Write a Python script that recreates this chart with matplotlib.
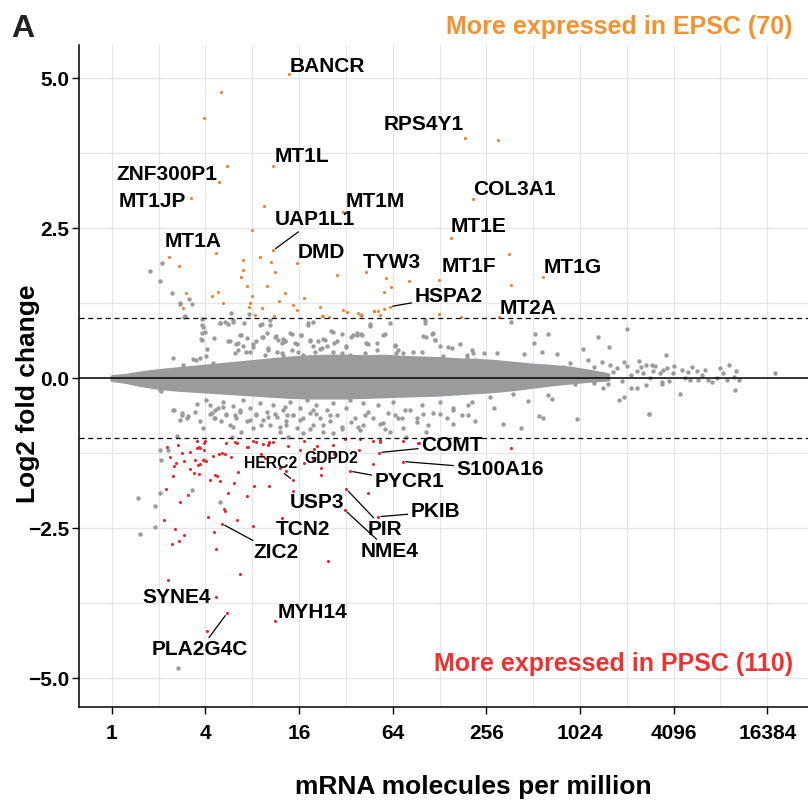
import numpy as np
import matplotlib
matplotlib.use("Agg")
import matplotlib.pyplot as plt

plt.rcParams['font.family'] = ['Liberation Sans', 'DejaVu Sans']
plt.rcParams['font.weight'] = 'bold'

# ---- data (x = log2 mRNA molecules per million, y = log2 fold change) ----
# dense centre of the MA cloud: envelope
core_x = [0.0, 0.3, 0.6, 1.0, 1.4, 1.8, 2.2, 2.6, 3.0, 3.4, 3.8, 4.2, 4.6, 5.0,
          5.4, 5.8, 6.2, 6.6, 7.0, 7.4, 7.8, 8.2, 8.6, 9.0, 9.4, 9.8, 10.2, 10.6]
core_hi = [0.03, 0.05, 0.09, 0.13, 0.16, 0.19, 0.22, 0.25, 0.28, 0.31, 0.34, 0.36, 0.37, 0.37,
           0.36, 0.37, 0.35, 0.34, 0.33, 0.31, 0.30, 0.28, 0.25, 0.22, 0.20, 0.17, 0.12, 0.06]
core_lo = [-0.03, -0.06, -0.11, -0.16, -0.19, -0.21, -0.23, -0.25, -0.27, -0.29, -0.31, -0.32, -0.32, -0.32,
           -0.31, -0.30, -0.29, -0.28, -0.27, -0.25, -0.23, -0.21, -0.18, -0.14, -0.10, -0.07, -0.04, -0.02]

# scattered non-significant genes around the centre
grey_halo = [
    # upper side
    (1.56, 1.03), (1.72, 1.23), (1.45, 1.23), (1.92, 0.98), (1.94, 0.85), (1.99, 0.76), (1.90, 0.65),
    (2.04, 0.49), (2.02, 0.36), (1.79, 0.30), (2.19, 0.66), (2.54, 1.09), (2.31, 0.91), (2.49, 0.90),
    (2.59, 0.94), (2.82, 0.91), (2.77, 0.72), (2.69, 0.59), (2.63, 0.41), (2.49, 0.61), (2.86, 0.44),
    (3.02, 0.52), (3.20, 0.90), (3.38, 0.97), (3.23, 0.69), (3.50, 0.70), (3.66, 0.65), (3.63, 0.41),
    (3.34, 0.47), (2.95, 0.25), (0.81, 1.78), (1.08, 1.92), (1.03, 1.62), (1.29, 1.41), (1.46, 1.25),
    (1.65, 1.31), (1.55, 1.02), (2.94, 1.06), (5.32, 1.05),
    (3.84, 0.74), (4.05, 0.72), (3.70, 0.61), (3.91, 0.58), (4.23, 0.63), (4.30, 0.94), (4.19, 0.88),
    (4.52, 0.65), (4.72, 0.76), (4.91, 0.74), (4.74, 0.58), (5.10, 0.69), (5.23, 0.72), (5.33, 0.73),
    (5.51, 0.90), (5.42, 0.58), (5.83, 0.74), (5.67, 0.58), (6.05, 0.55), (6.08, 0.41), (6.65, 0.70),
    (6.84, 0.74), (6.69, 0.97), (6.90, 0.63), (7.19, 0.52), (7.58, 0.38), (7.69, 0.47), (7.76, 0.30),
    (5.01, 0.52), (4.44, 0.49),
    (1.92, 0.89), (1.92, 0.75), (1.92, 0.64), (2.31, 0.92), (2.42, 0.94), (2.59, 0.97), (2.52, 0.61),
    (2.74, 0.72), (2.66, 0.56), (2.70, 0.47), (2.81, 0.53), (2.88, 0.67), (2.95, 0.44), (3.02, 0.56),
    (3.09, 0.61), (3.16, 0.89), (3.20, 0.69), (3.31, 0.75), (3.34, 0.50), (3.27, 0.39), (3.38, 0.89),
    (3.48, 0.69), (3.55, 0.64), (3.63, 0.58), (3.70, 0.61), (3.52, 0.44), (3.66, 0.39), (3.80, 0.75),
    (3.84, 0.47), (3.95, 0.56), (3.98, 0.44), (4.05, 0.72), (4.09, 0.39), (4.20, 0.92), (4.23, 0.61),
    (4.30, 0.53), (4.34, 0.44), (4.41, 0.61), (4.48, 0.50), (4.55, 0.64), (4.59, 0.53), (4.69, 0.78),
    (4.73, 0.44), (4.80, 0.61), (4.91, 0.42), (5.01, 0.53), (5.09, 0.39), (5.16, 0.72), (5.23, 0.75),
    (5.34, 0.72), (5.41, 0.42), (5.48, 0.56), (5.51, 0.86), (5.66, 0.47), (5.80, 0.72), (5.94, 0.92),
    (6.05, 0.53), (6.12, 0.47), (6.23, 0.42), (6.44, 0.44), (6.62, 0.44), (6.69, 0.92), (6.72, 0.69),
    (6.87, 0.75), (6.90, 0.64), (7.01, 0.53), (7.08, 0.36), (7.26, 0.50), (7.44, 0.56), (7.58, 0.33),
    (7.72, 0.42), (1.74, 0.31), (1.88, 0.33), (2.17, 0.25), (1.31, 0.34), (1.52, 0.22),
    (8.52, 0.93), (9.04, 0.74), (9.32, 0.73), (9.02, 0.59), (9.19, 0.44), (9.50, 0.40), (8.80, 0.40),
    (8.23, 0.42), (7.95, 0.41), (10.07, 0.48), (10.39, 0.68), (10.63, 0.52), (11.01, 0.81), (10.93, 0.27),
    (11.25, 0.29), (9.79, 0.25), (10.18, 0.30), (10.46, 0.27), (10.64, 0.22), (11.53, 0.22), (11.78, 0.13),
    (10.78, 0.16), (9.93, 0.13), (9.64, 0.19), (11.21, 0.12), (11.35, 0.08),
    (9.70, 0.05), (9.90, -0.10), (10.10, 0.02), (10.30, -0.08), (10.50, 0.06), (10.70, 0.10), (10.90, -0.05),
    (11.10, 0.05), (11.30, 0.18), (11.50, 0.00), (11.60, 0.20), (11.90, -0.04), (12.00, 0.20), (12.30, 0.10),
    (10.30, 0.18), (10.60, -0.10), (11.00, 0.20), (11.40, -0.12),
    (11.84, 0.38), (11.42, 0.22), (11.57, 0.11), (11.71, 0.08), (11.85, 0.16), (11.99, 0.08), (12.17, 0.13),
    (12.24, 0.00), (12.39, 0.18), (12.35, -0.03), (12.49, 0.11), (12.60, 0.05), (12.67, 0.14), (12.74, -0.03),
    (12.81, -0.06), (12.98, 0.16), (13.06, 0.08), (13.13, -0.03), (13.19, 0.22), (13.28, 0.02), (13.33, 0.12),
    (13.40, -0.03), (13.31, -0.20), (14.17, 0.08), (12.14, -0.26), (11.47, -0.60), (11.75, -0.09),
    (12.92, 0.00), (12.53, -0.03),
    # lower side
    (1.06, -0.21), (1.32, -0.53), (1.49, -0.58), (1.45, -0.70), (1.63, -0.63), (1.81, -0.43), (2.02, -0.37),
    (2.09, -0.59), (2.20, -0.53), (2.18, -0.67), (2.38, -0.48), (2.45, -0.59), (2.64, -0.62), (2.74, -0.53),
    (2.59, -0.81), (2.56, -0.98), (2.77, -0.89), (2.95, -0.70), (3.09, -0.59), (3.18, -0.78), (3.34, -0.64),
    (3.48, -0.59), (3.59, -0.81), (3.77, -0.98), (3.75, -0.62), (1.40, -0.97),
    (0.56, -1.99), (0.92, -2.13), (0.92, -2.48), (0.61, -2.59), (1.03, -1.91), (1.06, -1.37), (1.03, -1.20),
    (1.42, -4.83), (2.31, -2.07), (1.72, -1.86), (1.97, -1.36), (1.21, -1.20),
    (3.70, -0.48), (3.87, -0.62), (3.73, -0.78), (4.02, -0.70), (4.23, -0.84), (4.09, -0.92), (4.37, -0.59),
    (4.66, -0.62), (4.52, -0.78), (4.73, -0.92), (4.91, -0.84), (5.12, -0.73), (5.26, -0.81), (5.41, -0.62),
    (5.73, -0.76), (5.83, -0.84), (5.94, -0.89), (6.05, -0.62), (6.19, -0.67), (6.26, -0.53), (6.51, -0.73),
    (6.65, -0.59), (6.72, -0.89), (7.01, -0.59), (7.29, -0.53), (7.61, -0.62), (7.29, -0.76), (6.29, -0.98),
    (4.30, -0.53), (5.37, -0.42),
    (1.03, -0.19), (1.31, -0.53), (1.49, -0.61), (1.60, -0.67), (1.77, -0.56), (1.88, -0.72), (1.95, -0.83),
    (2.09, -0.44), (2.13, -0.58), (2.20, -0.67), (2.27, -0.50), (2.34, -0.72), (2.38, -0.39), (2.45, -0.61),
    (2.52, -0.78), (2.59, -0.47), (2.66, -0.67), (2.74, -0.56), (2.81, -0.36), (2.88, -0.72), (2.95, -0.50),
    (3.02, -0.83), (3.09, -0.61), (3.16, -0.42), (3.23, -0.69), (3.31, -0.56), (3.38, -0.78), (3.45, -0.44),
    (3.52, -0.64), (3.59, -0.89), (3.66, -0.53), (3.73, -0.72), (3.80, -0.39), (3.88, -0.61), (3.95, -0.83),
    (4.02, -0.50), (4.09, -0.67), (4.16, -0.36), (4.23, -0.58), (4.30, -0.78), (4.37, -0.44), (4.44, -0.67),
    (4.52, -0.89), (4.59, -0.53), (4.66, -0.72), (4.73, -0.42), (4.80, -0.61), (4.91, -0.81), (5.01, -0.50),
    (5.09, -0.36), (5.19, -0.67), (5.30, -0.86), (5.37, -0.78), (5.48, -0.56), (5.58, -0.67), (5.69, -0.44),
    (5.80, -0.75), (5.90, -0.58), (6.01, -0.39), (6.12, -0.67), (6.23, -0.83), (6.37, -0.53), (6.51, -0.67),
    (6.62, -0.44), (6.76, -0.78), (6.87, -0.58), (7.01, -0.39), (7.15, -0.67), (7.29, -0.50), (7.47, -0.61),
    (7.61, -0.44), (7.76, -0.72),
    (8.16, -0.49), (8.36, -0.77), (8.74, -0.83), (8.90, -0.38), (9.13, -0.63), (9.20, -0.67), (9.32, -0.28),
    (9.40, -0.34), (9.94, -0.68), (10.94, -0.31), (11.48, -0.59), (10.84, -0.36), (11.10, -0.16),
    (11.21, -0.16), (10.50, -0.17), (10.00, -0.03), (11.75, -0.06), (7.69, -0.39), (8.58, -0.26),
    (8.08, -0.31),
]

# more expressed in EPSC (orange)
up_x = [3.78, 2.34, 1.97, 2.46, 2.29, 1.69, 3.45, 3.25, 4.94, 3.00, 3.45, 2.22, 1.23, 1.43, 2.81,
        2.81, 2.76, 3.16, 3.41, 3.48, 3.95, 2.88, 3.32, 3.00, 2.13, 2.27, 1.59, 2.37, 2.95, 2.94,
        3.21, 3.05, 3.46, 3.70, 3.58, 4.10, 3.86, 3.95, 4.44, 4.50, 4.80, 5.43, 4.93, 5.03, 5.26,
        5.85, 5.96, 5.82, 6.35, 5.60, 5.68, 5.81, 5.94, 5.73, 1.52, 7.55, 8.25, 7.71, 7.24, 8.48,
        9.22, 8.53, 6.98, 6.99, 7.45, 8.26, 4.64, 5.33, 5.61, 4.52]
up_y = [5.06, 4.76, 4.34, 3.54, 3.26, 3.00, 3.54, 2.87, 2.77, 2.46, 2.13, 2.09, 2.02, 1.87, 1.96,
        1.80, 1.69, 2.01, 1.94, 1.76, 1.92, 1.53, 1.54, 1.37, 1.37, 1.43, 1.41, 1.25, 1.25, 1.18,
        1.17, 1.05, 1.03, 1.42, 1.29, 1.33, 1.21, 1.14, 1.18, 1.04, 1.72, 1.77, 1.13, 1.10, 1.08,
        1.67, 1.51, 1.43, 1.62, 1.11, 1.11, 1.15, 1.19, 1.05, 1.16, 4.00, 3.97, 2.98, 2.33, 2.06,
        1.68, 1.55, 1.64, 1.07, 1.02, 1.02, 1.01, 1.05, 1.11, 1.04]

# more expressed in PPSC (red)
down_x = [1.42, 1.24, 1.51, 1.68, 1.55, 1.37, 1.15, 1.30, 1.45, 1.12, 1.36, 1.28, 1.43, 1.54, 1.67,
          1.77, 1.85, 1.87, 1.75, 1.81, 1.87, 1.96, 1.97, 1.95, 2.02, 2.10, 2.20, 2.24, 2.31, 2.16,
          2.28, 2.36, 2.42, 2.54, 2.49, 2.39, 2.42, 2.06, 2.36, 2.19, 2.23, 2.68, 2.70, 2.74, 2.89,
          3.02, 3.04, 2.88, 3.02, 3.18, 3.28, 3.33, 3.35, 3.45, 3.35, 3.64, 3.73, 3.87, 3.87, 3.77,
          4.10, 4.11, 4.29, 4.47, 4.46, 4.73, 5.09, 5.01, 4.98, 5.48, 5.57, 5.71, 5.73, 6.22, 5.69,
          4.62, 3.49, 2.46, 2.23, 2.04, 1.20, 5.28, 1.17, 1.32, 1.89, 2.63, 4.32, 4.74, 4.98, 5.73,
          6.22, 6.54, 8.52, 4.39, 5.30, 5.58, 6.56, 1.82, 1.99, 1.88, 2.45, 2.68, 2.90, 3.07, 3.22,
          3.36, 4.01, 3.60, 2.60, 1.62]
down_y = [-1.12, -1.31, -1.24, -1.23, -1.38, -1.41, -1.84, -1.63, -2.06, -2.36, -2.52, -2.76, -2.72, -2.62, -1.51,
          -1.37, -1.44, -1.59, -1.58, -1.17, -1.14, -1.08, -1.20, -1.37, -1.38, -1.69, -1.61, -1.63, -1.72, -1.30,
          -1.26, -1.24, -1.27, -1.31, -1.91, -2.18, -2.21, -2.32, -2.43, -2.57, -2.84, -2.36, -1.57, -3.27, -1.97,
          -2.46, -1.80, -1.14, -1.04, -1.26, -1.33, -1.12, -1.06, -1.06, -1.79, -2.33, -1.55, -1.70, -1.88, -1.13,
          -1.04, -1.42, -1.35, -1.49, -1.62, -1.11, -1.55, -1.85, -2.20, -1.92, -1.43, -1.24, -1.07, -1.39, -2.31,
          -3.04, -4.04, -3.92, -3.65, -4.21, -3.37, -1.20, -1.14, -1.46, -1.43, -1.06, -1.18, -1.27, -1.01, -1.03,
          -1.04, -1.08, -1.17, -1.13, -1.02, -1.04, -1.08, -1.04, -1.04, -1.16, -1.08, -1.08, -1.14, -1.06, -1.10,
          -1.08, -1.20, -1.50, -1.75, -1.95]

# labelled genes and where their points sit
gene_names = ['BANCR', 'RPS4Y1', 'MT1L', 'ZNF300P1', 'MT1JP', 'MT1M', 'COL3A1', 'UAP1L1', 'MT1E',
              'MT1A', 'DMD', 'TYW3', 'MT1F', 'MT1G', 'HSPA2', 'MT2A',
              'COMT', 'S100A16', 'PYCR1', 'HERC2', 'GDPD2', 'USP3', 'PIR', 'NME4', 'PKIB',
              'TCN2', 'ZIC2', 'SYNE4', 'MYH14', 'PLA2G4C']
gene_x = [3.78, 7.55, 3.45, 2.29, 1.69, 4.94, 7.71, 3.45, 7.24, 2.22, 3.95, 5.43, 6.98, 9.22, 5.94, 8.26,
          5.71, 6.22, 5.09, 3.87, 4.11, 3.87, 5.01, 4.98, 5.69, 3.64, 2.36, 2.23, 3.49, 2.46]
gene_y = [5.06, 4.00, 3.54, 3.26, 3.00, 2.77, 2.98, 2.13, 2.33, 2.09, 1.92, 1.77, 1.64, 1.68, 1.19, 1.02,
          -1.24, -1.39, -1.55, -1.70, -1.42, -1.88, -1.85, -2.20, -2.31, -2.33, -2.43, -3.65, -4.04, -3.92]

# ---- layout of the gene labels: text centre, font size, leader line ----
label_pos = {
    'BANCR': (4.60, 5.19, 15, False), 'RPS4Y1': (6.67, 4.22, 15, False), 'MT1L': (4.06, 3.69, 15, False),
    'ZNF300P1': (1.17, 3.40, 15, False), 'MT1JP': (0.87, 2.94, 15, False), 'MT1M': (5.63, 2.94, 15, False),
    'COL3A1': (8.61, 3.14, 15, False), 'UAP1L1': (4.34, 2.64, 15, True), 'MT1E': (7.83, 2.52, 15, False),
    'MT1A': (1.74, 2.27, 15, False), 'DMD': (4.47, 2.09, 15, False), 'TYW3': (5.99, 1.93, 15, False),
    'MT1F': (7.63, 1.86, 15, False), 'MT1G': (9.85, 1.84, 15, False), 'HSPA2': (7.19, 1.36, 15, True),
    'MT2A': (8.89, 1.16, 15, False),
    'COMT': (7.26, -1.12, 15, True), 'S100A16': (8.29, -1.52, 15, True), 'PYCR1': (6.35, -1.73, 15, True),
    'HERC2': (3.39, -1.42, 11.3, True), 'GDPD2': (4.69, -1.34, 11.3, False), 'USP3': (4.38, -2.08, 15, False),
    'PIR': (5.84, -2.53, 15, True), 'NME4': (5.94, -2.89, 15, True), 'PKIB': (6.91, -2.23, 15, True),
    'TCN2': (4.09, -2.52, 15, False), 'ZIC2': (3.50, -2.91, 15, True), 'SYNE4': (1.39, -3.66, 15, False),
    'MYH14': (4.28, -3.91, 15, False), 'PLA2G4C': (1.88, -4.53, 15, True),
}

grey = '#9a9b9d'
orange = '#f07f2a'
red = '#e5262d'

fig = plt.figure(figsize=(8.08, 8.02), dpi=100)
ax = fig.add_axes([79 / 808, 95 / 802, 1 - 79 / 808, 662 / 802])

# grid like ggplot minor/major lines
ax.set_xticks(range(0, 15, 2))
ax.set_xticks(range(1, 15, 2), minor=True)
ax.set_yticks([-5, -2.5, 0, 2.5, 5])
ax.set_yticks([-3.75, -1.25, 1.25, 3.75], minor=True)
ax.grid(True, which='both', color='#e6e6e6', lw=0.9, zorder=0)
ax.set_axisbelow(True)

ax.fill_between(core_x, core_lo, core_hi, color=grey, lw=2.5, edgecolor=grey, zorder=2)
halo = np.array(grey_halo)
ax.scatter(halo[:, 0], halo[:, 1], s=10, color=grey, lw=0, zorder=2)
ax.scatter(up_x, up_y, s=5, color=orange, lw=0, zorder=3)
ax.scatter(down_x, down_y, s=5, color=red, lw=0, zorder=3)

ax.axhline(0, color='black', lw=1.1, zorder=4)
ax.axhline(1, color='black', lw=0.9, ls=(0, (4, 3)), zorder=4)
ax.axhline(-1, color='black', lw=0.9, ls=(0, (4, 3)), zorder=4)

for name, px, py in zip(gene_names, gene_x, gene_y):
    tx, ty, fs, leader = label_pos[name]
    if leader:
        ax.annotate(name, xy=(px, py), xytext=(tx, ty), ha='center', va='center',
                    fontsize=fs, fontweight='bold', zorder=5,
                    arrowprops=dict(arrowstyle='-', color='black', lw=0.9, shrinkA=0, shrinkB=2))
    else:
        ax.text(tx, ty, name, ha='center', va='center', fontsize=fs, fontweight='bold', zorder=5)

ax.set_xlim(-0.7, 14.87)
ax.set_ylim(-5.48, 5.55)
ax.set_xticklabels([str(2 ** k) for k in range(0, 15, 2)])
ax.set_yticklabels(['\u22125.0', '\u22122.5', '0.0', '2.5', '5.0'])
ax.tick_params(axis='both', which='major', labelsize=15, length=5, width=1, color='black')
ax.tick_params(axis='x', which='major', pad=7)
ax.tick_params(axis='y', which='major', pad=2)
ax.tick_params(which='minor', length=0)
for lab in ax.get_xticklabels() + ax.get_yticklabels():
    lab.set_fontweight('bold')

for side in ['top', 'right']:
    ax.spines[side].set_visible(False)
for side in ['left', 'bottom']:
    ax.spines[side].set_linewidth(1.1)

fig.text(473 / 808, 1 - 787 / 802, 'mRNA molecules per million', ha='center', va='center',
         fontsize=19, fontweight='bold')
fig.text(28 / 808, 1 - 394 / 802, 'Log2 fold change', ha='center', va='center', rotation=90,
         fontsize=19, fontweight='bold')
fig.text(11 / 808, 1 - 37 / 802, 'A', ha='left', va='baseline', fontsize=23, fontweight='bold',
         color='#231f20')
fig.text(793 / 808, 1 - 27 / 802, 'More expressed in EPSC (70)', ha='right', va='center',
         fontsize=18, fontweight='bold', color='#f5922f')
fig.text(793 / 808, 1 - 664 / 802, 'More expressed in PPSC (110)', ha='right', va='center',
         fontsize=18, fontweight='bold', color='#ec3232')

fig.savefig('out.png', dpi=100)
